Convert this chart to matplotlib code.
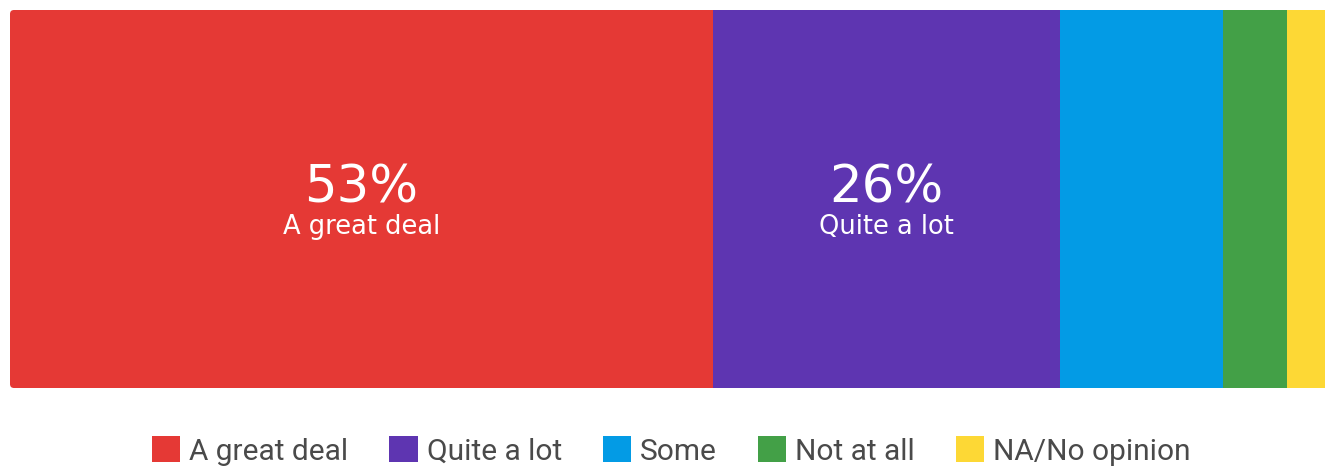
import matplotlib.pyplot as plt
from matplotlib.patches import FancyBboxPatch

plt.rcParams['font.family'] = ['Roboto', 'DejaVu Sans']

categories = ["A great deal", "Quite a lot", "Some", "Not at all", "NA/No opinion"]
values = [53, 26.2, 12.3, 4.8, 3.7]
colors = ["#E53935", "#5E35B1", "#039BE5", "#43A047", "#FDD835"]
show_label = [True, True, False, False, False]

W, H = 1325, 467
fig = plt.figure(figsize=(W / 100, H / 100), dpi=100)
ax = fig.add_axes([10 / W, 1 - 388 / H, 1 - 10 / W, 378 / H])

# rounded corners on the bar (left side; right side runs off the image)
aw, ah = W - 10, 378
clip = FancyBboxPatch((0, 0), 1.05, 1, transform=ax.transAxes,
                      boxstyle="round,pad=0,rounding_size=%f" % (4 / aw),
                      mutation_aspect=aw / ah, facecolor="none", edgecolor="none")
ax.add_patch(clip)

left = 0
for cat, val, col, show in zip(categories, values, colors, show_label):
    b = ax.barh(0, val, left=left, height=1.0, color=col, label=cat, linewidth=0)
    for p in b:
        p.set_clip_path(clip)
    if show:
        ax.text(left + val / 2, -0.008, "%d%%" % round(val), ha="center", va="baseline",
                color="white", fontsize=37, family="DejaVu Sans")
        ax.text(left + val / 2, -0.093, cat, ha="center", va="baseline",
                color="white", fontsize=18.5, family="DejaVu Sans")
    left += val

ax.set_xlim(0, 99.2)
ax.set_ylim(-0.5, 0.5)
ax.axis("off")

fig.legend(loc="center", bbox_to_anchor=(671.5 / W, 1 - 451 / H), ncol=5,
           frameon=False, fontsize=21.5, handlelength=0.95, handleheight=0.95,
           handletextpad=0.3, columnspacing=1.37, labelcolor="#4a4a4a",
           borderpad=0)

fig.savefig("out.png", dpi=100)
